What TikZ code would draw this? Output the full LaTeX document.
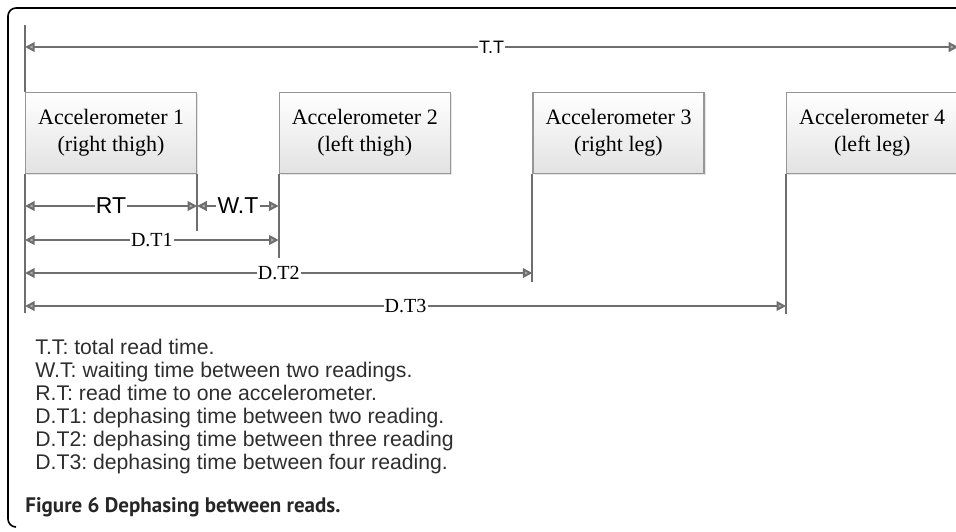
\documentclass[tikz,border=0pt]{standalone}
\usepackage{fontspec}
\setmainfont{Liberation Serif}
\setsansfont{Liberation Sans}
\newfontfamily\capfont{PT Sans}
\usetikzlibrary{positioning,arrows.meta,shadows}
\definecolor{linegray}{RGB}{110,110,110}
\definecolor{boxgray}{RGB}{150,150,150}
\definecolor{boxfill}{RGB}{226,226,226}
\definecolor{tipgray}{RGB}{175,175,175}
\frenchspacing

\begin{document}
\begin{tikzpicture}[x=0.5pt,y=-0.5pt,
    accbox/.style={draw=boxgray,line width=0.6pt,top color=white,bottom color=boxfill,
      minimum width=85.5pt,minimum height=40.5pt,inner sep=0pt,align=center,
      font=\fontsize{11}{13.5}\selectfont,
      drop shadow={opacity=0.2,shadow xshift=0.8pt,shadow yshift=-0.8pt}},
    tick/.style={draw=linegray,line width=1pt},
    span/.style={tick,{Triangle[fill=tipgray,length=4.8pt,width=4.8pt]}-{Triangle[fill=tipgray,length=4.8pt,width=4.8pt]}},
    lbl/.style={fill=white,inner sep=0.6pt,font=\fontsize{10}{12}\selectfont},
    node distance=40.75pt]
    \useasboundingbox (0,0) rectangle (956,531);
    % frame
    \draw[line width=0.8pt,rounded corners=4pt] (956,8) -- (8,8) -- (8,527) -- (16,527);

    \node[accbox,anchor=north west] (acc1) at (25,92) {Accelerometer 1\\(right thigh)};
    \node[accbox,right=of acc1] (acc2) {Accelerometer 2\\(left thigh)};
    \node[accbox,right=of acc2] (acc3) {Accelerometer 3\\(right leg)};
    \node[accbox,right=of acc3] (acc4) {Accelerometer 4\\(left leg)};

    % tick ends
    \coordinate (tt0) at ([yshift=33.5pt]acc1.north west);
    \coordinate (tt1) at ([yshift=32pt]acc4.north east);
    \coordinate (r0) at ([yshift=-69.5pt]acc1.south west);
    \coordinate (r1) at ([yshift=-28.5pt]acc1.south east);
    \coordinate (w1) at ([yshift=-42pt]acc2.south west);
    \coordinate (d2) at ([yshift=-54pt]acc3.south west);
    \coordinate (d3) at ([yshift=-70pt]acc4.south west);

    \draw[tick] (tt0) -- (acc1.north west);
    \draw[tick] (tt1) -- (acc4.north east);
    \draw[tick] (acc1.south west) -- (r0);
    \draw[tick] (acc1.south east) -- (r1);
    \draw[tick] (acc2.south west) -- (w1);
    \draw[tick] (acc3.south west) -- (d2);
    \draw[tick] (acc4.south west) -- (d3);

    % spans
    \draw[span] (acc1.west |- 0,47) -- node[lbl,font=\sffamily\fontsize{9}{11}\selectfont] {T.T} (acc4.east |- 0,47);
    \draw[span] (acc1.west |- 0,206) -- node[lbl,font=\sffamily\fontsize{11.5}{13}\selectfont] {RT} (acc1.east |- 0,206);
    \draw[span] (acc1.east |- 0,206) -- node[lbl,font=\sffamily\fontsize{11.5}{13}\selectfont] {W.T} (acc2.west |- 0,206);
    \draw[span] (acc1.west |- 0,240) -- node[lbl] {D.T1} (acc2.west |- 0,240);
    \draw[span] (acc1.west |- 0,273) -- node[lbl] {D.T2} (acc3.west |- 0,273);
    \draw[span] (acc1.west |- 0,306) -- node[lbl] {D.T3} (acc4.west |- 0,306);

    \node[anchor=north west,inner sep=0pt,align=left,font=\sffamily\fontsize{10.6}{11.5}\selectfont,text=black!82] (legend) at (35,339)
      {T.T: total read time.\\
       W.T: waiting time between two readings.\\
       R.T: read time to one accelerometer.\\
       D.T1: dephasing time between two reading.\\
       D.T2: dephasing time between three reading\\
       D.T3: dephasing time between four reading.};
    \node[anchor=base west,inner sep=0pt,font=\capfont\bfseries\fontsize{10.5}{12}\selectfont,text=black!85] (caption) at (25,512)
      {Figure 6 Dephasing between reads.};
\end{tikzpicture}
\end{document}
